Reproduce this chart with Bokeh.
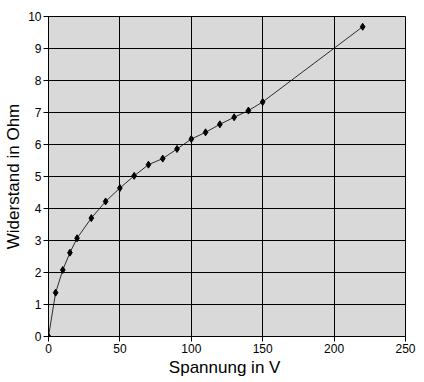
from bokeh.plotting import figure
from bokeh.models import Range1d, FixedTicker
from bokeh.embed import file_html
from bokeh.resources import INLINE

spannung = [0, 5, 10, 15, 20, 30, 40, 50, 60, 70, 80, 90, 100, 110, 120, 130, 140, 150, 220]
widerstand = [0, 1.37, 2.08, 2.62, 3.07, 3.7, 4.22, 4.64, 5.02, 5.37, 5.56, 5.86, 6.17, 6.38, 6.63, 6.85, 7.06, 7.33, 9.68]
x_ticks = [0, 50, 100, 150, 200, 250]
y_ticks = [0, 1, 2, 3, 4, 5, 6, 7, 8, 9, 10]
x_title = "Spannung  in V"
y_title = "Widerstand in Ohm"

p = figure(width=424, height=382, output_backend="svg", toolbar_location=None,
           x_range=Range1d(0, 250), y_range=Range1d(0, 10),
           min_border_left=48, min_border_right=19, min_border_top=16, min_border_bottom=46)

p.background_fill_color = "#D9D9D9"
p.border_fill_color = "white"
p.outline_line_color = "black"
p.outline_line_width = 1

for ax in (p.xaxis[0], p.yaxis[0]):
    ax.axis_line_color = "black"
    ax.major_tick_line_color = "black"
    ax.major_tick_out = 5
    ax.major_tick_in = 0
    ax.minor_tick_line_color = None
    ax.major_label_text_font = "Liberation Sans"
    ax.major_label_text_font_size = "12px"
    ax.major_label_text_color = "black"
    ax.axis_label_text_font = "Liberation Sans"
    ax.axis_label_text_font_size = "17px"
    ax.axis_label_text_font_style = "normal"
    ax.axis_label_text_color = "black"
    ax.major_label_standoff = 2
    ax.axis_label_standoff = 2

p.xaxis[0].ticker = FixedTicker(ticks=x_ticks)
p.yaxis[0].ticker = FixedTicker(ticks=y_ticks)
p.xaxis[0].axis_label = x_title
p.yaxis[0].axis_label = y_title

p.xgrid[0].ticker = FixedTicker(ticks=x_ticks)
p.ygrid[0].ticker = FixedTicker(ticks=y_ticks)
p.xgrid.grid_line_color = "black"
p.ygrid.grid_line_color = "black"
p.xgrid.grid_line_width = 1
p.ygrid.grid_line_width = 1
p.xgrid.grid_line_alpha = 1
p.ygrid.grid_line_alpha = 1

p.line(spannung, widerstand, line_color="black", line_width=0.8)
p.scatter(spannung, widerstand, marker="diamond", size=7, fill_color="black", line_color="black")

open("out.html", "w").write(file_html(p, INLINE))
